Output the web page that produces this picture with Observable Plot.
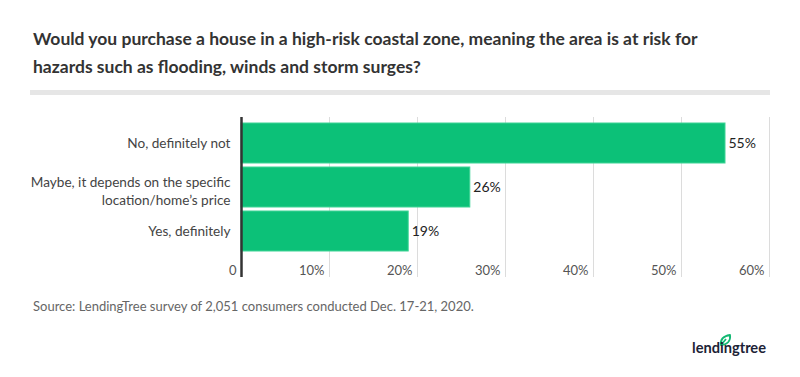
<!DOCTYPE html>
<html><head><meta charset="utf-8">
<script src="https://cdn.jsdelivr.net/npm/d3@7"></script>
<script src="https://cdn.jsdelivr.net/npm/@observablehq/plot@0.6"></script>
<style>
html,body{margin:0;padding:0;background:#fff;font-family:Lato,"Noto Sans",sans-serif;}
#wrap{position:relative;width:800px;height:377px;overflow:hidden;background:#fff;}
#title{position:absolute;left:33px;top:25px;font-weight:700;font-size:17.5px;line-height:27.6px;color:#333;white-space:nowrap;}
#rule{position:absolute;left:30px;top:90px;width:740px;height:5px;background:#e6e6e6;}
#chart{position:absolute;left:0;top:100px;}
#source{position:absolute;left:33px;top:298px;font-size:13px;line-height:16px;color:#666;white-space:nowrap;}
#logo{position:absolute;left:680px;top:325px;}
</style>
</head><body>
<div id="wrap">
  <div id="title">Would you purchase a house in a high-risk coastal zone, meaning the area is at risk for<br>hazards such as flooding, winds and storm surges?</div>
  <div id="rule"></div>
  <div id="chart"></div>
  <div id="source">Source: LendingTree survey of 2,051 consumers conducted Dec. 17-21, 2020.</div>
  <svg id="logo" width="100" height="40">
    <path d="M41,20 C40,14 44,11 50,10 C51,16 47,20 41,20 Z M41,20 L46,14" fill="none" stroke="#12b872" stroke-width="1.8" stroke-linejoin="round"/>
    <text x="12" y="28" font-family="Lato" font-weight="700" font-size="16" fill="#1c2336" textLength="74" lengthAdjust="spacingAndGlyphs">lendingtree</text>
  </svg>
</div>
<script>
const categories = ["No, definitely not", "Maybe, it depends on the specific\nlocation/home’s price", "Yes, definitely"];
const values = [55, 26, 19];
const tickValues = [0, 10, 20, 30, 40, 50, 60];
const tickLabels = ["0", "10%", "20%", "30%", "40%", "50%", "60%"];

const data = categories.map((c, i) => ({category: c, value: values[i]}));
const ticks = tickValues.map((v, i) => ({v, label: tickLabels[i]}));
const singleLine = data.filter(d => !d.category.includes("\n"));
const multiLine = data.filter(d => d.category.includes("\n"));

const chart = Plot.plot({
  width: 800,
  height: 185,
  marginLeft: 241,
  marginRight: 31,
  marginTop: 17,
  marginBottom: 8,
  x: {domain: [0, 60], axis: null},
  y: {domain: categories, range: [19.1, 153.5], paddingInner: 0.1, paddingOuter: 0.05, axis: null},
  style: {fontFamily: "Lato", background: "transparent"},
  marks: [
    Plot.ruleX(tickValues.slice(1), {stroke: "#dcdcdc", strokeWidth: 1}),
    Plot.barX(data, {x: "value", y: "category", fill: "#0cc178", stroke: "#3fd496", strokeWidth: 1}),
    Plot.text(data, {x: "value", y: "category", text: d => d.value + "%", textAnchor: "start", dx: 3, fontSize: 14, fill: "#222"}),
    Plot.text(singleLine, {x: 0, y: "category", text: "category", textAnchor: "end", dx: -11, dy: 0.5, fontSize: 13.6, fill: "#444"}),
    Plot.text(multiLine, {x: 0, y: "category", text: "category", textAnchor: "end", dx: -11, dy: 3, fontSize: 13.6, fill: "#444", lineHeight: 1.28}),
    Plot.text(ticks, {x: "v", text: "label", frameAnchor: "bottom", lineAnchor: "bottom", textAnchor: "end", dx: -5, dy: -3, fontSize: 13, fill: "#555"}),
    Plot.ruleX([0], {stroke: "#333", strokeWidth: 2.5})
  ]
});
document.getElementById("chart").appendChild(chart);
</script>
</body></html>
